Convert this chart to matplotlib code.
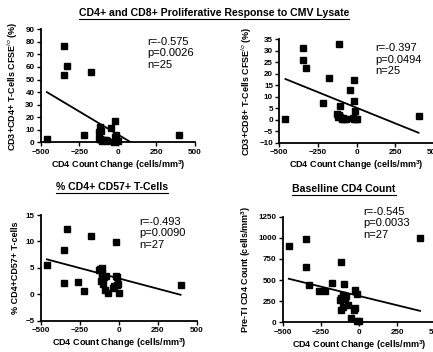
import numpy as np
import matplotlib
matplotlib.use("Agg")
import matplotlib.pyplot as plt
from matplotlib.lines import Line2D

plt.rcParams['font.family'] = ['Liberation Sans', 'DejaVu Sans']
plt.rcParams['mathtext.fontset'] = 'custom'
plt.rcParams['mathtext.bf'] = 'Liberation Sans:bold'
plt.rcParams['mathtext.rm'] = 'Liberation Sans:bold'

# CD4+ CFSE-lo response vs CD4 change
cd4_x = [-460, -350, -330, -350, -175, -220, -120, -115, -110, -115, -100, -90, -80,
         -70, -45, -20, -20, -20, -15, -10, 0, 395, -125, -105, -25]
cd4_y = [3, 77, 61, 54, 56, 6, 8, 12, 9, 3, 2, 2, 1.5,
         1, 11.5, 17, 4, 1, 6, 1, 1, 6, 3, 1, 0.5]
cd4_fit = [-0.0734, 6.2]

# CD8+ CFSE-lo response vs CD4 change
cd8_x = [-460, -350, -350, -330, -180, -220, -115, -110, -130, -115, -105, -95, -85,
         -70, -40, -20, -15, -10, -15, 0, -5, 400, -120, -90, -25]
cd8_y = [0.5, 31, 26, 22.5, 18, 7.3, 33, 6, 2.5, 2, 1, 0.5, 0.5,
         0.5, 13, 17.5, 8.3, 3.8, 0.5, 0.5, 0.3, 1.5, 1, 0.8, 0.6]
cd8_fit = [-0.0272, 5.2]

# % CD4+CD57+ T-cells vs CD4 change
cd57_x = [-460, -350, -330, -350, -260, -220, -175, -20, -120, -105, -110, -115, -100,
          -85, -95, -90, -70, -110, -40, -30, -20, -10, -15, -5, 0, 395, -125]
cd57_y = [5.6, 8.3, 12.3, 2.2, 2.3, 0.7, 11.1, 9.9, 4.8, 5.0, 4.0, 2.5, 2.0,
          3.5, 3.3, 0.8, 0.3, 3.5, 1.2, 1.5, 3.5, 3.3, 1.7, 2.0, 0.3, 1.7, 4.5]
cd57_fit = [-0.00784, 3.0]

# Baseline CD4 count vs CD4 change
base_x = [-460, -350, -350, -330, -260, -220, -180, -120, -100, -125, -115, -110, -105,
          -95, -85, -90, -120, -105, -70, -50, -30, -25, -25, -15, -10, 0, 400]
base_y = [900, 985, 650, 440, 370, 375, 465, 710, 450, 260, 290, 270, 320,
          300, 310, 280, 140, 180, 200, 55, 150, 170, 385, 340, 20, 15, 1000]
base_fit = [-0.442, 312]

xlabel = 'CD4 Count Change (cells/mm$^3$)'

W, H = 433, 352
fig = plt.figure(figsize=(W / 100, H / 100), dpi=100)


def box(l, t, r, b):
    return [l / W, 1 - b / H, (r - l) / W, (b - t) / H]


panels = [
    (box(40.7, 29.3, 195, 142.3), cd4_x, cd4_y, cd4_fit, (0, 90), np.arange(0, 91, 10),
     'CD3+CD4+ T-Cells CFSE$^{lo}$ (%)', 'r=-0.575\np=0.0026\nn=25', (0.69, 0.93)),
    (box(279.3, 39.3, 434, 142.7), cd8_x, cd8_y, cd8_fit, (-10, 35), np.arange(-10, 36, 5),
     'CD3+CD8+ T-Cells CFSE$^{lo}$ (%)', 'r=-0.397\np=0.0494\nn=25', (0.62, 0.96)),
    (box(40.7, 215, 197, 320.7), cd57_x, cd57_y, cd57_fit, (-5, 15), np.arange(-5, 16, 5),
     '% CD4+CD57+ T-cells', 'r=-0.493\np=0.0090\nn=27', (0.63, 0.98)),
    (box(282.7, 216.7, 435.3, 322.3), base_x, base_y, base_fit, (0, 1250), np.arange(0, 1251, 250),
     'Pre-TI CD4 Count (cells/mm$^3$)', 'r=-0.545\np=0.0033\nn=27', (0.53, 1.09)),
]

for rect, xs, ys, fit, ylim, yticks, ylab, stats, tpos in panels:
    ax = fig.add_axes(rect)
    ax.plot(xs, ys, 's', color='black', markersize=4.3, clip_on=False, zorder=3)
    xx = np.array([min(xs), max(xs)])
    ax.plot(xx, fit[0] * xx + fit[1], color='black', lw=1.3)
    ax.set_xlim(-500, 500)
    ax.set_ylim(*ylim)
    ax.set_xticks([-500, -250, 0, 250, 500])
    ax.set_yticks(yticks)
    for s in ['top', 'right']:
        ax.spines[s].set_visible(False)
    for s in ['left', 'bottom']:
        ax.spines[s].set_linewidth(1.3)
    ax.tick_params(direction='out', length=3, width=1, pad=1.5, labelsize=5.8)
    for lab in ax.get_xticklabels() + ax.get_yticklabels():
        lab.set_fontweight('bold')
    ax.set_xlabel(xlabel, fontsize=6.5, fontweight='bold', labelpad=2)
    ax.set_ylabel(ylab, fontsize=6.5, fontweight='bold', labelpad=4)
    ax.text(tpos[0], tpos[1], stats, transform=ax.transAxes, fontsize=8,
            va='top', ha='left', linespacing=1.15)

titles = [
    ('CD4+ and CD8+ Proliferative Response to CMV Lysate', 214, 13),
    ('% CD4+ CD57+ T-Cells', 112, 187),
    ('Baselline CD4 Count', 344, 189),
]
renderer = fig.canvas.get_renderer()
for txt, x, y in titles:
    t = fig.text(x / W, 1 - y / H, txt, fontsize=7.6, fontweight='bold',
                 ha='center', va='center')
    bb = t.get_window_extent(renderer).transformed(fig.transFigure.inverted())
    fig.add_artist(Line2D([bb.x0, bb.x1], [bb.y0 - 0.002, bb.y0 - 0.002],
                          transform=fig.transFigure, color='black', lw=0.8))

fig.savefig('out.png', dpi=100)
